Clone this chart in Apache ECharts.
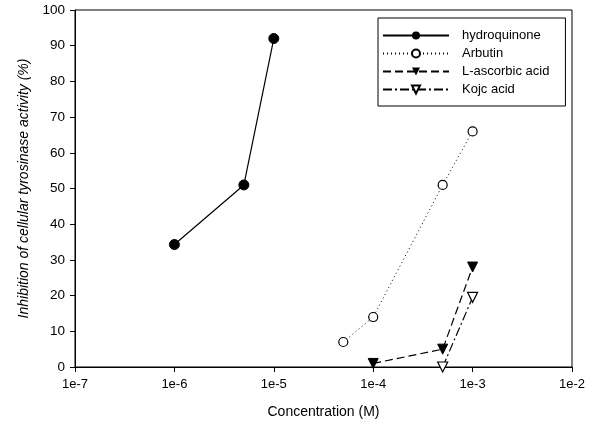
<!DOCTYPE html>
<html>
<head>
<meta charset="utf-8">
<script src="https://cdn.jsdelivr.net/npm/echarts@6/dist/echarts.min.js"></script>
<style>html,body{margin:0;padding:0;background:#fff}#c{width:598px;height:428px}</style>
</head>
<body>
<div id="c"></div>
<script>
const seriesNames = ['hydroquinone', 'Arbutin', 'L-ascorbic acid', 'Kojc acid'];
const hydroquinoneX = [1e-6, 5e-6, 1e-5];
const hydroquinoneY = [34.3, 51, 92];
const arbutinX = [5e-5, 1e-4, 5e-4, 1e-3];
const arbutinY = [7, 14, 51, 66];
const ascorbicX = [1e-4, 5e-4, 1e-3];
const ascorbicY = [1, 5, 28];
const kojicX = [5e-4, 1e-3];
const kojicY = [0, 19.5];
const yTicks = [0, 10, 20, 30, 40, 50, 60, 70, 80, 90, 100];
const xTickLabels = ['1e-7', '1e-6', '1e-5', '1e-4', '1e-3', '1e-2'];

const pairs = (xs, ys) => xs.map((x, i) => [x, ys[i]]);
const font = 'Liberation Sans, Arial, sans-serif';

const chart = echarts.init(document.getElementById('c'), null, {renderer: 'canvas'});
const base = {type: 'line', symbolSize: 9, z: 3, animation: false};
chart.setOption({
  animation: false,
  backgroundColor: '#fff',
  grid: {left: 75, right: 26, top: 10, bottom: 61, show: true, borderColor: '#000', borderWidth: 1},
  legend: {
    orient: 'vertical', left: 378, top: 18,
    padding: [11, 16, 10, 4],
    itemWidth: 66, itemHeight: 10, itemGap: 5,
    borderColor: '#000', borderWidth: 1,
    backgroundColor: '#fff',
    textStyle: {fontFamily: font, fontSize: 13, color: '#000', padding: [0, 0, 0, 8]},
    data: seriesNames
  },
  xAxis: {
    type: 'log', logBase: 10, min: 1e-7, max: 1e-2,
    name: 'Concentration (M)', nameLocation: 'middle', nameGap: 38,
    nameTextStyle: {fontFamily: font, fontSize: 14, color: '#000'},
    axisLine: {lineStyle: {color: '#000', width: 1}},
    axisTick: {show: true, inside: false, length: 5, lineStyle: {color: '#000'}},
    minorTick: {show: false},
    splitLine: {show: false},
    axisLabel: {
      fontFamily: font, fontSize: 13, color: '#000', margin: 11,
      formatter: v => xTickLabels[Math.round(Math.log10(v)) + 7]
    }
  },
  yAxis: {
    type: 'value', min: yTicks[0], max: yTicks[yTicks.length - 1], interval: 10,
    name: 'Inhibition of cellular tyrosinase activity (%)', nameLocation: 'middle', nameGap: 42,
    nameTextStyle: {fontFamily: font, fontSize: 14, color: '#000', fontStyle: 'italic'},
    axisLine: {show: true, lineStyle: {color: '#000', width: 1}},
    axisTick: {show: true, length: 5, lineStyle: {color: '#000'}},
    splitLine: {show: false},
    axisLabel: {fontFamily: font, fontSize: 13.5, color: '#000', margin: 10}
  },
  series: [
    Object.assign({}, base, {
      name: seriesNames[0], data: pairs(hydroquinoneX, hydroquinoneY),
      symbol: 'circle', symbolSize: 10,
      itemStyle: {color: '#000', borderColor: '#000'},
      lineStyle: {color: '#000', width: 1.2, type: 'solid'}
    }),
    Object.assign({}, base, {
      name: seriesNames[1], data: pairs(arbutinX, arbutinY),
      symbol: 'circle', symbolSize: 9,
      itemStyle: {color: '#fff', borderColor: '#000', borderWidth: 1.2},
      lineStyle: {color: '#000', width: 1, type: [1, 3]}
    }),
    Object.assign({}, base, {
      name: seriesNames[2], data: pairs(ascorbicX, ascorbicY),
      symbol: 'triangle', symbolRotate: 180, symbolSize: 10,
      itemStyle: {color: '#000', borderColor: '#000'},
      lineStyle: {color: '#000', width: 1.2, type: [8, 4]}
    }),
    Object.assign({}, base, {
      name: seriesNames[3], data: pairs(kojicX, kojicY),
      symbol: 'triangle', symbolRotate: 180, symbolSize: 10,
      itemStyle: {color: '#fff', borderColor: '#000', borderWidth: 1.2},
      lineStyle: {color: '#000', width: 1.2, type: [9, 3, 2, 3]}
    })
  ]
});
</script>
</body>
</html>
